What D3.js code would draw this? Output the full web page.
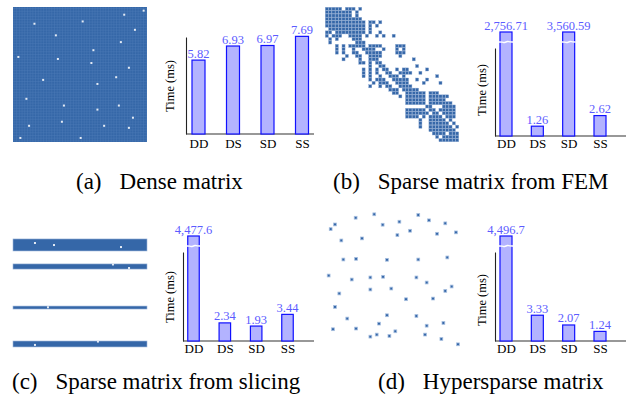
<!DOCTYPE html>
<html>
<head>
<meta charset="utf-8">
<script src="https://cdn.jsdelivr.net/npm/d3@7"></script>
<style>
  body { margin: 0; background: #fff; }
  svg { display: block; }
  text { font-family: "Liberation Serif", "DejaVu Serif", serif; }
</style>
</head>
<body>
<svg id="figure"></svg>
<script>
"use strict";

// ---- data ----
var categories = ["DD", "DS", "SD", "SS"];
var denseTimes = [5.82, 6.93, 6.97, 7.69];
var femTimes = [2756.71, 1.26, 3560.59, 2.62];
var slicingTimes = [4477.6, 2.34, 1.93, 3.44];
var hyperTimes = [4496.7, 3.33, 2.07, 1.24];
var axisMax = [7.64, 11.3, 11.5, 11.5];

var captionTags = ["(a)", "(b)", "(c)", "(d)"];
var captionTitles = ["Dense matrix", "Sparse matrix from FEM", "Sparse matrix from slicing", "Hypersparse matrix"];

// empty entries of the dense matrix, [col, row] on a 0..100 grid
var denseHoles = [[97.5, 2.7], [83, 5.7], [16, 12.4], [52, 10.7], [91, 16.9], [32, 21], [80.5, 26],
  [60, 32], [4, 37], [33.5, 38.5], [58.5, 41.5], [86.5, 45], [77, 52], [22.5, 54], [63, 57],
  [10, 68], [38, 73], [79, 73], [63, 76], [89.5, 82], [36.5, 85], [12, 88], [68, 88],
  [86.5, 89.5], [5.5, 97], [50.5, 97]];

// FEM sparsity pattern, 40 x 40 blocks, "#" = non-zero
var femRows = [
  "#####.###.#",
  "########.#",
  "########.#",
  "###########",
  "############.##.#",
  "############.#.#",
  ".###########.#",
  "##.#########.#..#",
  "#.###..####.#..#.#..#",
  ".#.#....###",
  ".#.......###",
  "...#.#.#####.####....###",
  "...#.#..#..####..#...#.#",
  "...#.#..##..#####....###",
  "......#..##..####.....#",
  ".....#....#..###..........#",
  "..........##.#.##",
  ".............#..##.........#",
  "...........#.#.#.##..#.##.....#",
  "...........#.#.#..##..####..#",
  "...........#.#..#..###.#.........#",
  ".............#.###..#####..#..#",
  "..............#.###..####....#....#",
  ".............#..#.##..####",
  "...................###.#####",
  "....................##..######.###",
  "......................#.######.######",
  "........................######.#####",
  "........................######.#######",
  "..............................##...####",
  "........................######.##.#####",
  "........................#######.##.####",
  "........................####.#.####.###",
  "............................#..#####.#",
  "............................#..######.#",
  "............................#..#######.#",
  "...............................########",
  "................................####.###",
  ".................................#.#####",
  "..................................######"
];

// row bands of the sliced matrix, [firstRow, lastRow] on a 0..100 grid
var sliceBands = [[9.6, 18.5], [28.1, 31.9], [59.3, 61.5], [85.2, 89.6]];
var sliceHoles = [[16.4, 12.6], [30.6, 14.1], [80.6, 15.6], [74.6, 28.5], [86.6, 31.1],
  [26.1, 60.2], [63.4, 85.6], [16.4, 88.1]];

// non-zeros of the hypersparse matrix, [col, row] on a 0..100 grid
var hyperPoints = [[36.5, 4.6], [69.1, 5.1], [22.7, 7.1], [7.4, 12.0], [55.1, 10.0], [77.0, 9.0],
  [89.1, 11.2], [4.2, 15.4], [42.7, 12.2], [63.0, 16.6], [83.0, 18.8], [97.0, 17.8], [53.6, 19.8],
  [12.1, 23.7], [27.4, 22.2], [13.6, 37.6], [23.0, 37.1], [45.9, 37.8], [69.1, 37.6], [90.6, 36.1],
  [2.7, 49.3], [19.8, 52.2], [33.6, 50.7], [43.0, 50.2], [67.7, 50.7], [75.3, 54.4], [93.8, 57.3],
  [89.1, 60.5], [10.6, 62.4], [33.6, 59.5], [49.1, 58.8], [60.0, 66.6], [80.0, 66.1], [7.4, 72.2],
  [16.5, 80.7], [45.9, 78.3], [67.7, 78.8], [40.0, 84.4], [75.3, 85.9], [87.7, 83.9], [5.9, 88.5],
  [23.0, 88.0], [52.1, 90.0], [33.6, 93.9], [38.3, 92.4], [47.7, 93.4], [74.1, 92.4], [86.2, 95.6],
  [98.5, 99.5]];

// ---- layout ----
var width = 636
  , height = 397
  , matrixBlue = "#3567a8"
  , barFill = "#b3b3ff"
  , barStroke = "#1010ff"
  , labelBlue = "#5c5cff";

var svg = d3.select("#figure")
  .attr("width", width)
  .attr("height", height);

var charts = [
  { values: denseTimes, yMax: axisMax[0], x0: 186, x1: 314, base: 134, top: 37, first: 198.5, last: 302, barW: 13, tickPad: 5, labelX: 170, labelY: 86 },
  { values: femTimes, yMax: axisMax[1], x0: 495, x1: 626, base: 136, top: 48, first: 506, last: 600, barW: 12, tickPad: 3, labelX: 482, labelY: 90 },
  { values: slicingTimes, yMax: axisMax[2], x0: 183, x1: 314, base: 341, top: 252, first: 193.5, last: 287.5, barW: 11.5, tickPad: 3, labelX: 170, labelY: 297 },
  { values: hyperTimes, yMax: axisMax[3], x0: 495, x1: 626, base: 341, top: 252, first: 506, last: 600, barW: 12, tickPad: 3, labelX: 482, labelY: 300 }
];

var captions = [
  { x: 76, y: 189 },
  { x: 333, y: 189 },
  { x: 12, y: 389 },
  { x: 378, y: 389 }
];

charts.forEach(drawBars);
drawDense();
drawFem();
drawSlicing();
drawHyper();
drawCaptions();

function drawBars(cfg) {
  var g = svg.append("g").attr("class", "bars");
  var fmt = d3.format(",");

  var x = d3.scalePoint().domain(categories).range([cfg.first, cfg.last]);
  var y = d3.scaleLinear().domain([0, cfg.yMax]).range([cfg.base, cfg.top]);
  var capY = cfg.top - 16; // broken bars stop here

  function barTop(v) { return Math.max(y(v), capY); }

  var rows = categories.map(function (c, i) { return { cat: c, value: cfg.values[i] }; });

  // axes
  g.append("g")
    .attr("transform", "translate(" + cfg.x0 + ",0)")
    .call(d3.axisLeft(y).tickValues([]).tickSizeOuter(0))
    .select(".domain")
    .attr("stroke", "#222")
    .attr("stroke-width", 1.1);

  g.append("line")
    .attr("x1", cfg.x0).attr("x2", cfg.x1)
    .attr("y1", cfg.base).attr("y2", cfg.base)
    .attr("stroke", "#333")
    .attr("stroke-width", 1.2);

  var xAxis = g.append("g")
    .attr("transform", "translate(0," + cfg.base + ")")
    .call(d3.axisBottom(x).tickSize(0).tickPadding(cfg.tickPad));
  xAxis.select(".domain").remove();
  xAxis.selectAll("text")
    .attr("font-family", "Liberation Serif, serif")
    .attr("font-size", 13)
    .attr("fill", "#000");

  g.selectAll("rect.bar")
    .data(rows)
    .enter()
    .append("rect")
    .attr("class", "bar")
    .attr("x", function (d) { return x(d.cat) - cfg.barW / 2; })
    .attr("y", function (d) { return barTop(d.value); })
    .attr("width", cfg.barW)
    .attr("height", function (d) { return cfg.base - barTop(d.value); })
    .attr("fill", barFill)
    .attr("stroke", barStroke)
    .attr("stroke-width", 1.2);

  // break marks on the bars that run off the scale
  var wave = d3.line().curve(d3.curveBasis);
  g.selectAll("path.break")
    .data(rows.filter(function (d) { return y(d.value) < capY; }))
    .enter()
    .append("path")
    .attr("class", "break")
    .attr("d", function (d) {
      var cx = x(d.cat), h = cfg.barW / 2 + 1, yb = cfg.top - 6;
      return wave([[cx - h, yb], [cx - h / 2, yb], [cx - 1.5, yb + 0.9], [cx + 1.5, yb - 0.9], [cx + h / 2, yb], [cx + h, yb]]);
    })
    .attr("fill", "none")
    .attr("stroke", "#fff")
    .attr("stroke-width", 1.4);

  g.selectAll("text.value")
    .data(rows)
    .enter()
    .append("text")
    .attr("class", "value")
    .attr("x", function (d) { return x(d.cat); })
    .attr("y", function (d) { return barTop(d.value) - 2.5; })
    .attr("text-anchor", "middle")
    .attr("font-size", 12.5)
    .attr("fill", labelBlue)
    .text(function (d) { return fmt(d.value); });

  g.append("text")
    .attr("transform", "translate(" + cfg.labelX + "," + cfg.labelY + ") rotate(-90)")
    .attr("text-anchor", "middle")
    .attr("dy", "0.35em")
    .attr("font-size", 12.5)
    .text("Time (ms)");
}

function drawDense() {
  var x = d3.scaleLinear().domain([0, 100]).range([13, 147]);
  var y = d3.scaleLinear().domain([0, 100]).range([7, 142]);

  var defs = svg.append("defs");
  var pat = defs.append("pattern")
    .attr("id", "dense-grid")
    .attr("width", 2.7).attr("height", 2.7)
    .attr("patternUnits", "userSpaceOnUse");
  pat.append("rect").attr("width", 2.7).attr("height", 2.7).attr("fill", matrixBlue);
  pat.append("path")
    .attr("d", "M0,0.3H2.7M0.3,0V2.7")
    .attr("stroke", "#5a86c0")
    .attr("stroke-width", 0.5)
    .attr("opacity", 0.6);

  svg.append("rect")
    .attr("x", x(0)).attr("y", y(0))
    .attr("width", x(100) - x(0))
    .attr("height", y(100) - y(0))
    .attr("fill", "url(#dense-grid)");

  svg.selectAll("rect.dense-hole")
    .data(denseHoles)
    .enter()
    .append("rect")
    .attr("class", "dense-hole")
    .attr("x", function (d) { return x(d[0]) - 1; })
    .attr("y", function (d) { return y(d[1]) - 1; })
    .attr("width", 2).attr("height", 2)
    .attr("fill", "#e4ebf5");
}

function drawFem() {
  var cells = [];
  femRows.forEach(function (row, r) {
    row.split("").forEach(function (ch, c) {
      if (ch === "#") cells.push([c, r]);
    });
  });

  var idx = d3.range(40);
  var x = d3.scaleBand().domain(idx).range([325, 459]).padding(0.08);
  var y = d3.scaleBand().domain(idx).range([7, 142]).padding(0.08);

  svg.selectAll("rect.fem")
    .data(cells)
    .enter()
    .append("rect")
    .attr("class", "fem")
    .attr("x", function (d) { return x(d[0]); })
    .attr("y", function (d) { return y(d[1]); })
    .attr("width", x.bandwidth())
    .attr("height", y.bandwidth())
    .attr("fill", matrixBlue)
    .attr("stroke", "#8eaad3")
    .attr("stroke-width", 0.4);
}

function drawSlicing() {
  var x = d3.scaleLinear().domain([0, 100]).range([13, 147]);
  var y = d3.scaleLinear().domain([0, 100]).range([226, 361]);

  svg.selectAll("rect.band")
    .data(sliceBands)
    .enter()
    .append("rect")
    .attr("class", "band")
    .attr("x", x(0))
    .attr("y", function (d) { return y(d[0]); })
    .attr("width", x(100) - x(0))
    .attr("height", function (d) { return y(d[1]) - y(d[0]); })
    .attr("fill", matrixBlue)
    .attr("stroke", "#9db6da")
    .attr("stroke-width", 0.6);

  svg.selectAll("rect.slice-hole")
    .data(sliceHoles)
    .enter()
    .append("rect")
    .attr("class", "slice-hole")
    .attr("x", function (d) { return x(d[0]) - 1; })
    .attr("y", function (d) { return y(d[1]) - 1; })
    .attr("width", 2).attr("height", 2)
    .attr("fill", "#e4ebf5");
}

function drawHyper() {
  var x = d3.scaleLinear().domain([0, 100]).range([325, 460]);
  var y = d3.scaleLinear().domain([0, 100]).range([208, 345]);

  svg.selectAll("rect.hyper")
    .data(hyperPoints)
    .enter()
    .append("rect")
    .attr("class", "hyper")
    .attr("x", function (d) { return x(d[0]) - 1.4; })
    .attr("y", function (d) { return y(d[1]) - 1.4; })
    .attr("width", 2.8).attr("height", 2.8)
    .attr("fill", matrixBlue)
    .attr("stroke", "#a9c0e0")
    .attr("stroke-width", 0.8);
}

function drawCaptions() {
  var g = svg.append("g").attr("class", "captions");
  captions.forEach(function (c, i) {
    var t = g.append("text")
      .attr("x", c.x).attr("y", c.y)
      .attr("font-size", 23);
    t.append("tspan").text(captionTags[i]);
    t.append("tspan").attr("dx", 18).text(captionTitles[i]);
  });
}
</script>
</body>
</html>
